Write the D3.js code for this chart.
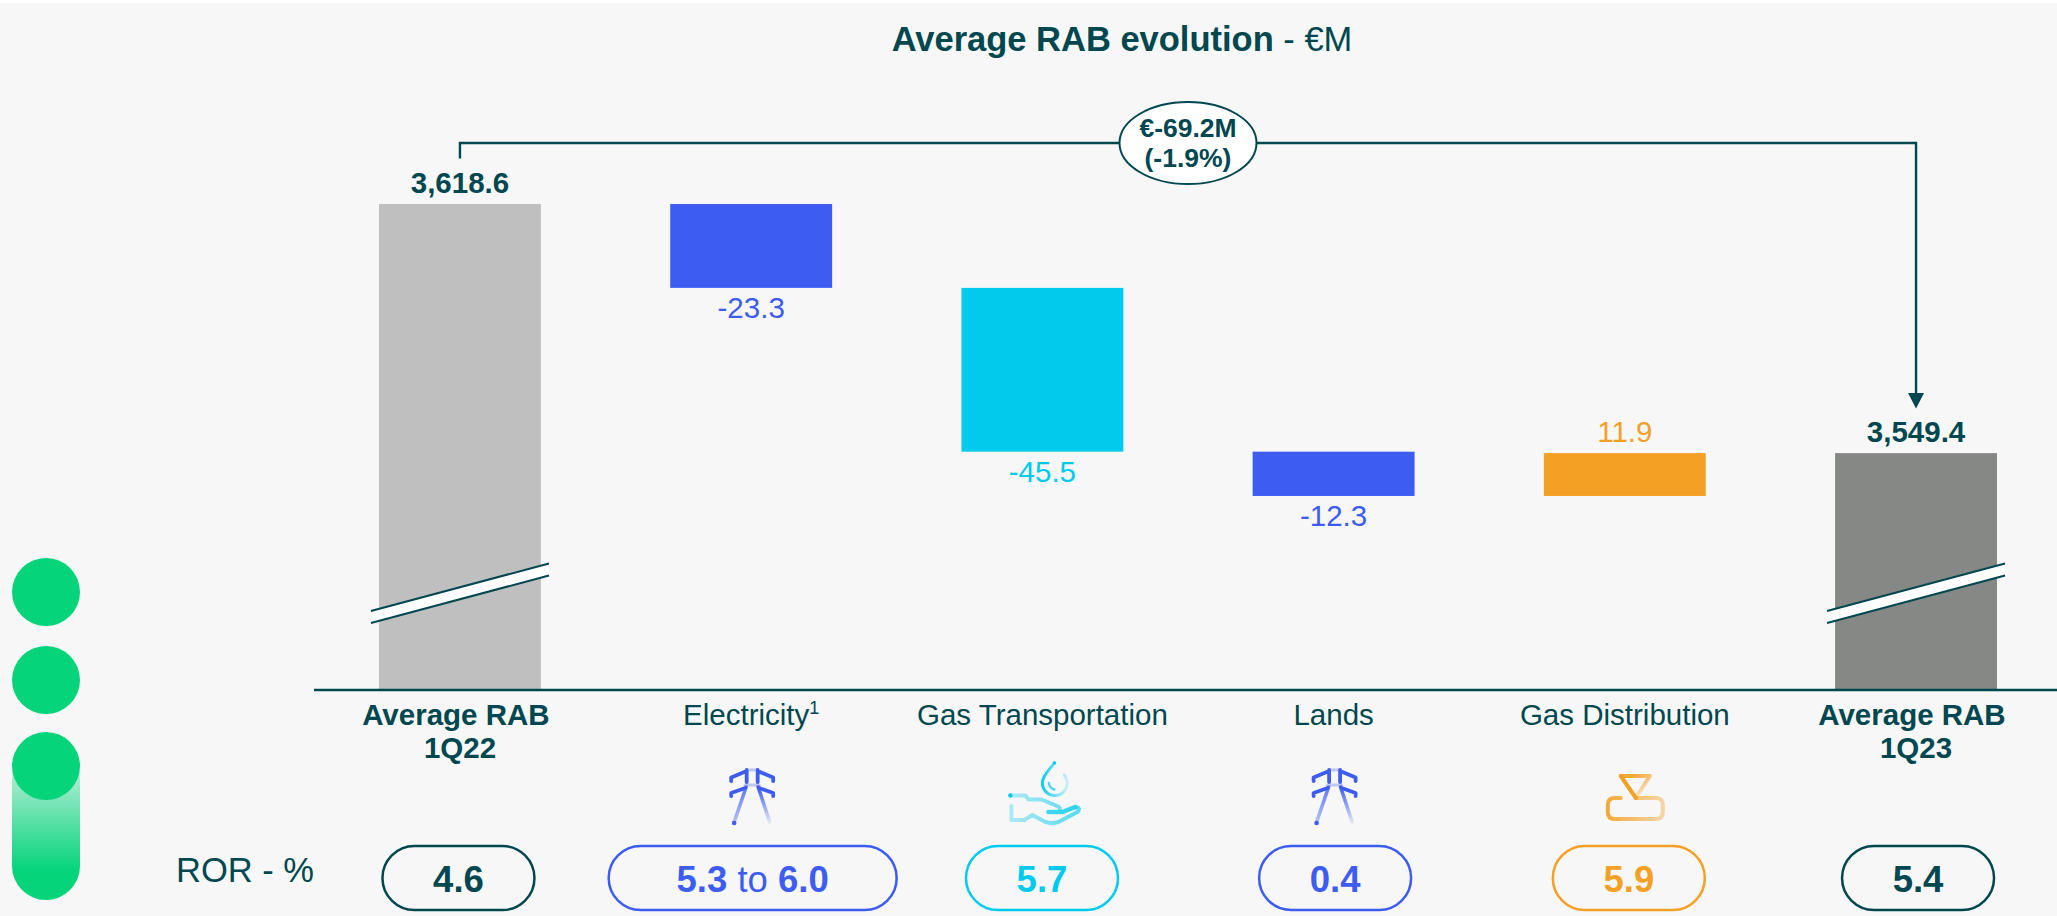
<!DOCTYPE html>
<html>
<head>
<meta charset="utf-8">
<script src="https://cdnjs.cloudflare.com/ajax/libs/d3/7.8.5/d3.min.js"></script>
<style>
  html, body { margin: 0; padding: 0; background: #f7f7f7; }
  svg { display: block; }
  text { font-family: "Liberation Sans", Arial, sans-serif; }
</style>
</head>
<body>
<div id="chart"></div>
<script>
const categories = ["Average RAB 1Q22", "Electricity", "Gas Transportation", "Lands", "Gas Distribution", "Average RAB 1Q23"];
const startValue = 3618.6;
const endValue = 3549.4;
const deltas = [-23.3, -45.5, -12.3, 11.9];
const rorLow = ["4.6", "5.3", "5.7", "0.4", "5.9", "5.4"];
const rorHigh = [null, "6.0", null, null, null, null];
const changeLabels = ["€-69.2M", "(-1.9%)"];

const teal = "#00474f", blue = "#3d5cf2", cyan = "#00cbed", orange = "#f4a025", green = "#05d47b";
const barColors = ["#bfbfbf", blue, cyan, blue, orange, "#858885"];
const textColors = [teal, blue, cyan, blue, orange, teal];
// pills are not quite centred on the bars in the original slide
const pillShift = [-1.5, 1.5, -0.4, 1.5, 4, 2];

const width = 2057, height = 916;
const svg = d3.select("#chart").append("svg").attr("width", width).attr("height", height);

svg.append("rect").attr("width", width).attr("height", 3).attr("fill", "#fff");

const x = d3.scaleBand().domain(categories).range([379, 1997]).paddingInner(0.444).paddingOuter(0);
// axis is cut, the bars only start at about 3483.6
const y = d3.scaleLinear().domain([3483.6, startValue]).range([690, 204]);
const cx = c => x(c) + x.bandwidth() / 2;

// d3 writes a real minus sign, the slide uses a plain hyphen
const fmtDelta = v => d3.format(".1f")(v).replace("\u2212", "-");

// waterfall steps
let running = startValue;
const bars = categories.map((c, i) => {
  if (i === 0) return { c, i, from: y.domain()[0], to: startValue, label: d3.format(",.1f")(startValue), total: true };
  if (i === categories.length - 1) return { c, i, from: y.domain()[0], to: endValue, label: d3.format(",.1f")(endValue), total: true };
  const d = deltas[i - 1];
  const from = running;
  running += d;
  return { c, i, from, to: running, label: fmtDelta(d), total: false, down: d < 0 };
});

// title
const title = svg.append("text").attr("x", 1122).attr("y", 51).attr("text-anchor", "middle")
  .attr("font-size", 34.5).attr("fill", teal);
title.append("tspan").attr("font-weight", "bold").text("Average RAB evolution");
title.append("tspan").text(" - €M");

// bars
svg.append("g").selectAll("rect").data(bars).join("rect")
  .attr("x", d => x(d.c))
  .attr("y", d => Math.min(y(d.from), y(d.to)))
  .attr("width", x.bandwidth())
  .attr("height", d => Math.abs(y(d.from) - y(d.to)))
  .attr("fill", d => barColors[d.i]);

// value labels
svg.append("g").selectAll("text").data(bars).join("text")
  .attr("x", d => cx(d.c))
  .attr("y", d => d.down ? y(d.to) + 30 : y(d.to) - 11)
  .attr("text-anchor", "middle")
  .attr("font-size", 29.5)
  .attr("font-weight", d => d.total ? "bold" : "normal")
  .attr("fill", d => textColors[d.i])
  .text(d => d.label);

// axis breaks on the two total bars
const breakG = svg.append("g").selectAll("g").data([categories[0], categories[5]]).join("g")
  .attr("transform", d => `translate(${cx(d)},0)`);
breakG.append("path").attr("d", "M-89,617 L89,569.5").attr("stroke", "#fff").attr("stroke-width", 11.5);
breakG.append("path").attr("d", "M-89,611 L89,563.5 M-89,623 L89,575.5").attr("stroke", teal).attr("stroke-width", 2).attr("fill", "none");

// baseline + category labels
const axis = svg.append("g").attr("transform", "translate(0,690)").call(d3.axisBottom(x).tickSize(0));
axis.select(".domain").remove();
axis.selectAll(".tick text").remove();
axis.selectAll(".tick").each(function (c, i) {
  const t = d3.select(this).append("text").attr("fill", teal).attr("font-size", 29.5).attr("text-anchor", "middle").attr("y", 35);
  if (c.startsWith("Average RAB")) {
    t.attr("font-weight", "bold");
    t.append("tspan").attr("x", 0).text("Average RAB\u00a0");
    t.append("tspan").attr("x", 0).attr("dy", 33).text(c.split(" ")[2]);
  } else {
    t.append("tspan").text(c);
    if (c === "Electricity") t.append("tspan").attr("font-size", 18).attr("dy", -11).text("1");
  }
});
svg.append("line").attr("x1", 314).attr("x2", width).attr("y1", 690).attr("y2", 690)
  .attr("stroke", teal).attr("stroke-width", 2.5);

// connector from first to last total
const x0 = cx(categories[0]), x1 = cx(categories[5]);
svg.append("path").attr("d", `M${x0},158.5 V143 H${x1} V396`).attr("fill", "none").attr("stroke", teal).attr("stroke-width", 2.4);
svg.append("path").attr("d", `M${x1 - 8},393 H${x1 + 8} L${x1},408.5 Z`).attr("fill", teal);
svg.append("ellipse").attr("cx", 1188).attr("cy", 143).attr("rx", 68.5).attr("ry", 41)
  .attr("fill", "#fff").attr("stroke", teal).attr("stroke-width", 2);
svg.append("g").selectAll("text").data(changeLabels).join("text")
  .attr("x", 1188).attr("y", (d, i) => 137 + i * 30).attr("text-anchor", "middle")
  .attr("font-size", 26.5).attr("font-weight", "bold").attr("fill", teal).text(d => d);

// ROR row
svg.append("text").attr("x", 176).attr("y", 882).attr("font-size", 34.5).attr("fill", teal).text("ROR - %");
const pillW = i => rorHigh[i] ? 288 : 152;
const pills = svg.append("g").selectAll("g").data(categories).join("g")
  .attr("transform", (c, i) => `translate(${cx(c) + pillShift[i]},0)`);
pills.append("rect")
  .attr("x", (c, i) => -pillW(i) / 2).attr("y", 846)
  .attr("width", (c, i) => pillW(i)).attr("height", 64).attr("rx", 32)
  .attr("fill", "none").attr("stroke", (c, i) => textColors[i]).attr("stroke-width", 2.5);
const rorText = pills.append("text").attr("y", 892).attr("text-anchor", "middle").attr("font-size", 36.5)
  .attr("fill", (c, i) => textColors[i]);
rorText.each(function (c, i) {
  const t = d3.select(this);
  t.append("tspan").attr("font-weight", "bold").text(rorLow[i]);
  if (rorHigh[i]) {
    t.append("tspan").text(" to ");
    t.append("tspan").attr("font-weight", "bold").text(rorHigh[i]);
  }
});

// gradients for icons
const defs = svg.append("defs");
function fade(id, color, x1g, y1g, x2g, y2g, a, b) {
  const g = defs.append("linearGradient").attr("id", id).attr("gradientUnits", "userSpaceOnUse")
    .attr("x1", x1g).attr("y1", y1g).attr("x2", x2g).attr("y2", y2g);
  g.append("stop").attr("offset", 0).attr("stop-color", color).attr("stop-opacity", a);
  g.append("stop").attr("offset", 1).attr("stop-color", color).attr("stop-opacity", b);
}
fade("legL", blue, 0, 27, 0, 63, 0.8, 0.35);
fade("legR", blue, 0, 27, 0, 63, 1, 0.1);
fade("handG", cyan, 18, 0, 90, 0, 0.3, 0.65);
fade("dropG", cyan, 50, 0, 78, 0, 1, 0.15);
fade("triG", orange, 45, 15, 58, 38, 0.9, 0.05);
fade("boxG", orange, 18, 0, 72, 0, 0.9, 0.4);
fade("pillG", green, 0, 745, 0, 870, 0.1, 1);
defs.append("filter").attr("id", "soft").append("feGaussianBlur").attr("stdDeviation", 0.5);

function icon(cat, dx) {
  return svg.append("g").attr("transform", `translate(${cx(cat) + dx},760)`)
    .attr("fill", "none").attr("stroke-linecap", "round").attr("stroke-linejoin", "round")
    .attr("filter", "url(#soft)");
}
function tower(cat) {
  const g = icon(cat, -51);
  g.append("path").attr("d", "M47,10 H57 M45,25 H59").attr("stroke", blue).attr("stroke-opacity", 0.3).attr("stroke-width", 3);
  g.append("path").attr("d", "M46.5,10 V22 M31,21 V17.5 L46.5,11 M31,36 V33 L45,28 M57.5,10 V22 M73,21 V17.5 L57.5,11 M73,36 V33 L59,28")
    .attr("stroke", blue).attr("stroke-width", 3.8);
  g.append("path").attr("d", "M46,27 L34,62").attr("stroke", "url(#legL)").attr("stroke-width", 3.6);
  g.append("path").attr("d", "M58,27 L69.5,62").attr("stroke", "url(#legR)").attr("stroke-width", 3.6);
  g.append("circle").attr("cx", 34).attr("cy", 63).attr("r", 2.3).attr("fill", blue);
}
tower("Electricity");
tower("Lands");

const drop = icon("Gas Transportation", -52);
drop.append("path").attr("d", "M64,3 C60,9 52,15 52,23 A12.5,12.5 0 0 0 77,23 C77,19.5 75.5,17 74,15")
  .attr("stroke", "url(#dropG)").attr("stroke-width", 3);
drop.append("path").attr("d", "M58.5,23 Q59,28 64,29.5").attr("stroke", cyan).attr("stroke-opacity", 0.7).attr("stroke-width", 2.4);
drop.append("path").attr("d", "M21,35.5 H35 L38,39.5 H51 L68,46.5 Q71,49 68,52 H58 M58,52 H72 L85,47 Q91,48 87,52 L68,62 Q62,64 55,62 L42,55 L34,60 H21 V46")
  .attr("stroke", "url(#handG)").attr("stroke-width", 4);
drop.append("path").attr("d", "M58,52 H72 L85,47").attr("stroke", cyan).attr("stroke-opacity", 0.5).attr("stroke-width", 4.6);
drop.append("circle").attr("cx", 20).attr("cy", 35.5).attr("r", 2.2).attr("fill", cyan);
drop.append("circle").attr("cx", 64).attr("cy", 3).attr("r", 1.8).attr("fill", cyan);

const gas = icon("Gas Distribution", -35);
gas.append("path").attr("d", "M31,16 H60 L46,38").attr("stroke", "url(#triG)").attr("stroke-width", 4);
gas.append("path").attr("d", "M31,16 L46,38").attr("stroke", orange).attr("stroke-width", 4);
gas.append("path").attr("d", "M31,38 H25 Q18,38 18,45 V52 Q18,59 25,59 H66 Q73,59 73,52 V45 Q73,38 66,38 H47")
  .attr("stroke", "url(#boxG)").attr("stroke-width", 4);

// side marks on the left
svg.append("rect").attr("x", 12).attr("y", 745).attr("width", 68).attr("height", 155).attr("rx", 34)
  .attr("fill", "url(#pillG)");
svg.append("g").selectAll("circle").data([592, 680, 766]).join("circle")
  .attr("cx", 46).attr("cy", d => d).attr("r", 34).attr("fill", green);
</script>
</body>
</html>
